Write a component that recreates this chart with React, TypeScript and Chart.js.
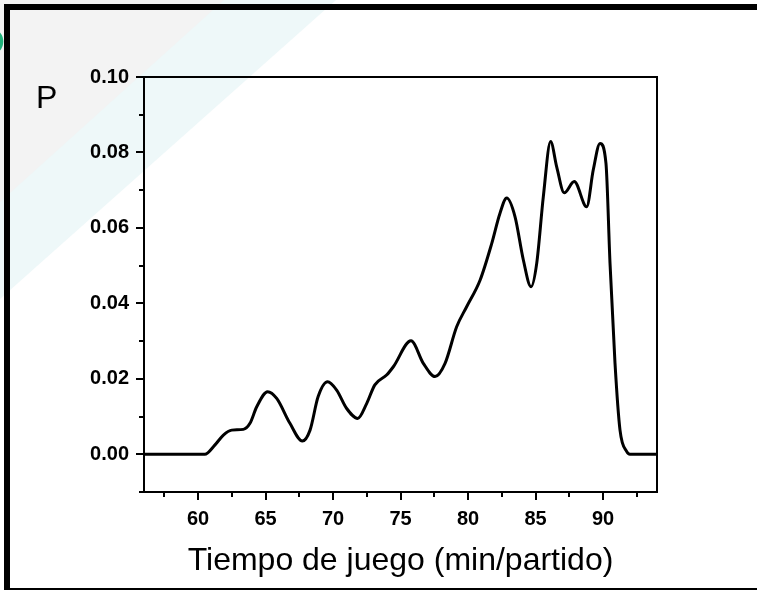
import React, { useEffect, useRef } from 'react';
import { Chart, registerables } from 'chart.js';

Chart.register(...registerables);

const timeMin = [
  56, 60.5, 61.26, 61.88, 62.5, 63.36, 63.85, 64.35, 65.16, 65.83, 66.81, 67.73, 68.3,
  68.9, 69.6, 70.27, 71.0, 71.83, 72.5, 73.1, 73.97, 74.47, 75.78, 76.69, 77.56, 78.3,
  79.16, 79.9, 80.9, 81.76, 82.37, 82.87, 83.48, 84.1, 84.67, 85.09, 85.58, 86.12,
  86.57, 87.13, 87.87, 88.79, 89.28, 89.78, 90.22, 90.52, 90.89, 91.26, 91.76, 92.0, 94,
];
const probability = [
  0, 0, 0.0025, 0.0051, 0.0064, 0.0066, 0.0082, 0.0126, 0.0166, 0.0148, 0.0082, 0.0035,
  0.0064, 0.0153, 0.0192, 0.017, 0.0122, 0.0095, 0.0135, 0.0184, 0.021, 0.0232, 0.0301,
  0.0241, 0.0206, 0.0241, 0.0338, 0.0391, 0.0462, 0.0559, 0.0639, 0.0679, 0.063, 0.0515,
  0.0444, 0.0506, 0.0683, 0.0829, 0.0762, 0.0693, 0.0723, 0.0656, 0.0754, 0.0824,
  0.0771, 0.0506, 0.0241, 0.0064, 0.0007, 0, 0,
];
const xMajorTicks = [60, 65, 70, 75, 80, 85, 90];
const xMinorTicks = [57.5, 62.5, 67.5, 72.5, 77.5, 82.5, 87.5, 92.5];
const yMajorTicks = [0, 0.02, 0.04, 0.06, 0.08, 0.1];
const yMinorTicks = [-0.01, 0.01, 0.03, 0.05, 0.07, 0.09];
const xTitle = 'Tiempo de juego (min/partido)';
const yTitle = 'P';

const FONT = '"Liberation Sans", Arial, Helvetica, sans-serif';

const decorPlugin = {
  id: 'decor',
  beforeDraw(chart: any) {
    const ctx = chart.ctx as CanvasRenderingContext2D;
    ctx.save();
    ctx.fillStyle = '#ffffff';
    ctx.fillRect(0, 0, chart.width, chart.height);
    ctx.fillStyle = '#eef8f9';
    ctx.beginPath();
    ctx.moveTo(0, 0);
    ctx.lineTo(336, 0);
    ctx.lineTo(0, 299);
    ctx.closePath();
    ctx.fill();
    ctx.fillStyle = '#f3f3f3';
    ctx.beginPath();
    ctx.moveTo(0, 0);
    ctx.lineTo(224, 0);
    ctx.lineTo(0, 202);
    ctx.closePath();
    ctx.fill();
    ctx.fillStyle = '#1fb27a';
    ctx.beginPath();
    ctx.arc(-10.7, 41.5, 14, 0, Math.PI * 2);
    ctx.fill();
    ctx.fillStyle = '#000';
    ctx.fillRect(4, 4, 753, 6);
    ctx.fillRect(4, 4, 6, 586);
    ctx.fillRect(4, 588, 753, 2);
    ctx.restore();
  },
  afterDraw(chart: any) {
    const ctx = chart.ctx as CanvasRenderingContext2D;
    const { left, right, top, bottom } = chart.chartArea;
    const xs = chart.scales.x;
    const ys = chart.scales.y;
    ctx.save();
    ctx.strokeStyle = '#000';
    ctx.lineWidth = 2;
    ctx.beginPath();
    ctx.moveTo(left - 1, top);
    ctx.lineTo(right, top);
    ctx.lineTo(right, bottom + 1);
    ctx.stroke();
    ctx.beginPath();
    xMajorTicks.forEach((v) => {
      const px = Math.round(xs.getPixelForValue(v));
      ctx.moveTo(px, bottom);
      ctx.lineTo(px, bottom + 8);
    });
    xMinorTicks.forEach((v) => {
      const px = Math.round(xs.getPixelForValue(v));
      ctx.moveTo(px, bottom);
      ctx.lineTo(px, bottom + 5);
    });
    yMajorTicks.forEach((v) => {
      const py = Math.round(ys.getPixelForValue(v));
      ctx.moveTo(left, py);
      ctx.lineTo(left - 8, py);
    });
    yMinorTicks.forEach((v) => {
      const py = Math.round(ys.getPixelForValue(v));
      ctx.moveTo(left, py);
      ctx.lineTo(left - 5, py);
    });
    ctx.stroke();
    ctx.fillStyle = '#000';
    ctx.font = `32px ${FONT}`;
    ctx.textBaseline = 'alphabetic';
    ctx.textAlign = 'center';
    ctx.fillText(xTitle, (left + right) / 2, 570);
    ctx.textAlign = 'left';
    ctx.fillText(yTitle, 36, 108);
    ctx.restore();
  },
};

export default function App() {
  const ref = useRef<HTMLCanvasElement | null>(null);
  useEffect(() => {
    if (!ref.current) return;
    const chart = new Chart(ref.current, {
      type: 'line',
      data: {
        datasets: [
          {
            data: timeMin.map((t, i) => ({ x: t, y: probability[i] })),
            borderColor: '#000',
            borderWidth: 3,
            pointRadius: 0,
            fill: false,
            cubicInterpolationMode: 'monotone',
            borderJoinStyle: 'round',
          },
        ],
      },
      options: {
        animation: false,
        responsive: false,
        maintainAspectRatio: false,
        layout: { padding: { top: 77, right: 100, left: 0, bottom: 0 } },
        plugins: { legend: { display: false }, tooltip: { enabled: false } },
        scales: {
          x: {
            type: 'linear',
            min: 56,
            max: 94,
            grid: { display: false },
            border: { display: true, color: '#000', width: 2 },
            ticks: {
              color: '#000',
              font: { family: FONT, size: 20, weight: 'bold' },
              padding: 7,
              maxRotation: 0,
              autoSkip: false,
              callback: (v: any) => String(v),
            },
            afterBuildTicks: (s: any) => {
              s.ticks = xMajorTicks.map((v) => ({ value: v }));
            },
            afterFit: (s: any) => {
              s.height = 98;
            },
          },
          y: {
            type: 'linear',
            min: -0.01,
            max: 0.1,
            grid: { display: false },
            border: { display: true, color: '#000', width: 2 },
            ticks: {
              color: '#000',
              font: { family: FONT, size: 20, weight: 'bold' },
              padding: 7,
              autoSkip: false,
              callback: (v: any) => Number(v).toFixed(2),
            },
            afterBuildTicks: (s: any) => {
              s.ticks = yMajorTicks.map((v) => ({ value: v }));
            },
            afterFit: (s: any) => {
              s.width = 144;
            },
          },
        },
      },
      plugins: [decorPlugin],
    });
    return () => chart.destroy();
  }, []);
  return (
    <div style={{ position: 'absolute', left: 0, top: 0, width: 757, height: 590 }}>
      <canvas ref={ref} width={757} height={590} style={{ display: 'block' }} />
    </div>
  );
}
